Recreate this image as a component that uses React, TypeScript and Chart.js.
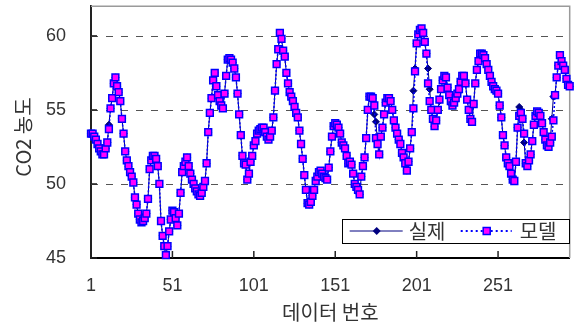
import React, { useEffect, useRef } from "react";
import { Chart, registerables } from "chart.js";

Chart.register(...registerables);

const seriesNames = ["실제", "모델"];
const xTitle = "데이터 번호";
const yTitle = "CO2 농도";
const xTickLabels = [1, 51, 101, 151, 201, 251];
const yTickValues = [45, 50, 55, 60];
const yGridValues = [50, 55, 60];

const modelValues = [
  53.4, 53.4, 53.2, 53.0, 52.7, 52.4, 52.2, 52.0, 52.0, 52.4,
  52.8, 53.7, 55.1, 55.8, 56.8, 57.2, 56.6, 56.2, 55.6, 54.4,
  53.4, 52.2, 51.6, 51.2, 50.8, 50.5, 50.1, 49.1, 48.6, 48.0,
  47.6, 47.4, 47.5, 47.7, 48.0, 49.0, 51.0, 51.6, 51.9, 51.9,
  51.7, 51.2, 50.0, 47.5, 46.5, 45.8, 45.2, 45.8, 46.8, 47.6,
  48.2, 48.1, 47.7, 47.2, 48.0, 49.4, 50.8, 51.2, 51.5, 51.8,
  51.2, 50.7, 50.3, 50.0, 49.7, 49.5, 49.3, 49.2, 49.4, 49.8,
  50.2, 51.4, 53.5, 54.8, 55.8, 57.0, 57.5, 56.6, 56.0, 55.6,
  55.3, 55.1, 56.1, 57.3, 58.4, 58.5, 58.4, 58.2, 57.8, 57.2,
  56.1, 54.7, 53.3, 51.9, 51.4, 51.3, 50.3, 50.7, 51.5, 51.9,
  52.6, 52.9, 53.4, 53.6, 53.7, 53.8, 53.8, 53.5, 53.2, 53.0,
  53.2, 53.6, 54.5, 56.3, 58.1, 59.1, 60.2, 59.8, 59.0, 58.6,
  57.5, 56.8, 56.2, 55.9, 55.6, 55.2, 54.8, 54.5, 53.6, 52.7,
  51.7, 50.6, 49.6, 48.7, 48.6, 48.8, 49.2, 49.6, 50.2, 50.5,
  50.8, 50.9, 50.7, 50.5, 50.4, 50.3, 51.1, 52.2, 53.2, 53.9,
  54.1, 54.0, 53.8, 53.4, 52.8, 52.6, 52.4, 51.9, 51.4, 51.5,
  51.3, 50.7, 50.0, 49.8, 49.6, 49.3, 50.5, 51.2, 51.8, 53.1,
  55.0, 55.9, 55.9, 55.8, 55.3, 53.1, 52.7, 52.0, 53.2, 53.8,
  54.7, 55.5, 55.8, 55.8, 55.6, 55.0, 54.3, 53.8, 53.4, 53.0,
  52.7, 52.1, 51.8, 51.4, 50.9, 51.5, 52.4, 53.5, 55.1, 57.6,
  59.5, 60.1, 60.4, 60.5, 60.2, 59.6, 58.8, 56.8, 55.6, 55.0,
  54.4, 53.9, 54.3, 55.0, 55.7, 56.4, 57.0, 57.3, 57.2, 56.5,
  56.0, 55.6, 55.3, 55.5, 55.8, 56.1, 56.4, 56.9, 57.3, 57.3,
  56.8, 55.7, 55.0, 54.4, 54.2, 55.4, 56.8, 57.7, 58.3, 58.8,
  58.8, 58.7, 58.5, 58.1, 57.7, 57.3, 56.9, 56.6, 56.4, 56.3,
  56.1, 55.3, 54.5, 53.3, 52.6, 51.8, 51.4, 51.2, 50.7, 50.3,
  50.2, 51.5, 53.8, 54.6, 54.8, 54.4, 53.4, 51.4, 51.2, 51.6,
  52.0, 52.9, 54.0, 54.6, 54.9, 54.8, 54.6, 54.1, 53.5, 53.0,
  52.6, 52.5, 52.8, 53.2, 54.3, 56.0, 57.2, 58.0, 58.7, 58.3,
  58.0, 57.7, 57.1, 56.7, 56.6,
];

const actualValues = [
  53.4, 53.4, 53.2, 53.0, 52.7, 52.4, 52.2, 52.0, 52.0, 52.4,
  52.8, 54.0, 55.1, 55.8, 56.8, 57.2, 56.6, 56.2, 55.6, 54.4,
  53.4, 52.2, 51.6, 51.2, 50.8, 50.5, 50.1, 49.1, 48.6, 48.0,
  47.6, 47.4, 47.5, 47.7, 48.0, 49.0, 51.0, 51.6, 51.9, 51.9,
  51.7, 51.2, 50.0, 47.5, 46.5, 45.8, 45.2, 45.8, 46.8, 47.6,
  48.2, 48.1, 47.7, 47.2, 48.0, 49.4, 50.8, 51.2, 51.5, 51.8,
  51.2, 50.7, 50.3, 50.0, 49.7, 49.5, 49.3, 49.2, 49.4, 49.8,
  50.2, 51.4, 53.5, 54.8, 55.8, 57.0, 57.5, 56.6, 56.0, 55.6,
  55.3, 55.1, 56.1, 57.3, 58.4, 58.5, 58.4, 58.2, 57.8, 57.2,
  56.1, 54.7, 53.3, 51.9, 51.4, 51.3, 50.3, 50.7, 51.5, 51.9,
  52.6, 52.9, 53.4, 53.6, 53.7, 53.8, 53.8, 53.5, 53.2, 53.0,
  53.2, 53.6, 54.5, 56.3, 58.1, 59.1, 60.2, 59.8, 59.0, 58.6,
  57.5, 56.8, 56.2, 55.9, 55.6, 55.2, 54.8, 54.5, 53.6, 52.7,
  51.7, 50.6, 49.6, 48.7, 48.6, 48.8, 49.2, 49.6, 50.2, 50.5,
  50.8, 50.9, 50.7, 50.5, 50.4, 50.3, 51.1, 52.2, 53.2, 53.9,
  54.1, 54.0, 53.8, 53.4, 52.8, 52.6, 52.4, 51.9, 51.4, 51.5,
  51.3, 50.7, 50.0, 49.8, 49.6, 49.3, 50.5, 51.2, 51.8, 53.1,
  55.0, 55.9, 55.9, 55.8, 54.7, 54.2, 52.7, 52.0, 53.2, 53.8,
  54.7, 55.5, 55.8, 55.8, 55.6, 55.0, 54.3, 53.8, 53.4, 53.0,
  52.7, 52.1, 51.8, 51.4, 50.9, 51.5, 52.4, 53.5, 56.3, 57.8,
  59.5, 60.1, 60.4, 60.5, 60.2, 59.6, 58.8, 57.8, 56.4, 55.0,
  54.4, 53.9, 54.3, 55.0, 55.6, 56.4, 57.0, 57.3, 57.2, 56.5,
  56.0, 55.6, 55.3, 55.5, 55.8, 56.1, 56.4, 56.9, 57.3, 57.3,
  56.8, 55.7, 55.0, 54.4, 54.2, 55.4, 56.8, 57.7, 58.3, 58.8,
  58.8, 58.7, 58.5, 58.1, 57.7, 57.3, 56.9, 56.6, 56.4, 56.3,
  56.1, 55.3, 54.5, 53.3, 52.6, 51.8, 51.4, 51.2, 50.7, 50.3,
  50.2, 51.5, 53.8, 55.2, 55.0, 54.4, 52.8, 51.4, 51.2, 51.6,
  52.0, 52.9, 54.0, 54.6, 54.9, 54.8, 54.6, 54.1, 53.5, 53.0,
  52.6, 52.5, 52.8, 54.4, 55.9, 56.0, 57.2, 58.0, 58.7, 58.3,
  58.0, 57.7, 57.1, 56.7, 56.6,
];

const FONT_NUM = '"Liberation Sans", "Noto Sans CJK KR", sans-serif';
const FONT_KR = '"Noto Sans CJK KR", "Liberation Sans", sans-serif';
const TEXT_COLOR = "#333333";
const ACTUAL_COLOR = "#000080";
const MODEL_LINE = "#0000FF";
const MODEL_FILL = "#FF00FF";

const decorPlugin = {
  id: "decor",
  beforeDraw(chart: any) {
    const { ctx, width, height } = chart;
    ctx.save();
    ctx.fillStyle = "#ffffff";
    ctx.fillRect(0, 0, width, height);
    ctx.restore();
  },
  beforeDatasetsDraw(chart: any) {
    const { ctx, chartArea: ca, scales } = chart;
    const ys = scales.y;
    const xs = scales.x;
    ctx.save();
    ctx.strokeStyle = "#9a9a9a";
    ctx.lineWidth = 1.5;
    ctx.beginPath();
    ctx.moveTo(ca.left, ca.top);
    ctx.lineTo(ca.right, ca.top);
    ctx.lineTo(ca.right, ca.bottom);
    ctx.stroke();
    ctx.strokeStyle = "#555555";
    ctx.lineWidth = 1;
    ctx.setLineDash([7, 8]);
    for (const v of yGridValues) {
      const y = Math.round(ys.getPixelForValue(v)) + 0.5;
      ctx.beginPath();
      ctx.moveTo(ca.left, y);
      ctx.lineTo(ca.right, y);
      ctx.stroke();
    }
    ctx.setLineDash([]);
    ctx.strokeStyle = "#222222";
    ctx.lineWidth = 1.5;
    for (const v of yTickValues) {
      const y = ys.getPixelForValue(v);
      ctx.beginPath();
      ctx.moveTo(ca.left, y);
      ctx.lineTo(ca.left + 6, y);
      ctx.stroke();
    }
    for (const v of xTickLabels) {
      const x = xs.getPixelForValue(v);
      ctx.beginPath();
      ctx.moveTo(x, ca.bottom);
      ctx.lineTo(x, ca.bottom - 7);
      ctx.stroke();
    }
    ctx.restore();
  },
  afterDraw(chart: any) {
    const { ctx, chartArea: ca } = chart;
    ctx.save();
    ctx.fillStyle = TEXT_COLOR;
    ctx.font = `20px ${FONT_KR}`;
    ctx.textAlign = "center";
    ctx.textBaseline = "middle";
    ctx.translate(23, 137);
    ctx.rotate(-Math.PI / 2);
    ctx.fillText(yTitle, 0, 0);
    ctx.restore();

    ctx.save();
    const lw = 227;
    const lh = 24;
    const lx = ca.right - 1 - lw;
    const ly = ca.bottom - 15 - lh;
    ctx.fillStyle = "#ffffff";
    ctx.fillRect(lx, ly, lw, lh);
    ctx.strokeStyle = "#000000";
    ctx.lineWidth = 1;
    ctx.strokeRect(Math.round(lx) + 0.5, Math.round(ly) + 0.5, lw, lh);
    const cy = ly + lh / 2;
    ctx.strokeStyle = ACTUAL_COLOR;
    ctx.lineWidth = 1;
    ctx.beginPath();
    ctx.moveTo(lx + 8, cy);
    ctx.lineTo(lx + 61, cy);
    ctx.stroke();
    ctx.fillStyle = ACTUAL_COLOR;
    const dx = lx + 35;
    ctx.beginPath();
    ctx.moveTo(dx - 4, cy);
    ctx.lineTo(dx, cy - 4);
    ctx.lineTo(dx + 4, cy);
    ctx.lineTo(dx, cy + 4);
    ctx.closePath();
    ctx.fill();
    ctx.fillStyle = TEXT_COLOR;
    ctx.font = `20px ${FONT_KR}`;
    ctx.textAlign = "left";
    ctx.textBaseline = "middle";
    ctx.fillText(seriesNames[0], lx + 67, cy);
    ctx.strokeStyle = MODEL_LINE;
    ctx.lineWidth = 2;
    ctx.setLineDash([2, 3]);
    ctx.beginPath();
    ctx.moveTo(lx + 119, cy);
    ctx.lineTo(lx + 170, cy);
    ctx.stroke();
    ctx.setLineDash([]);
    const sx = lx + 145;
    ctx.fillStyle = MODEL_FILL;
    ctx.fillRect(sx - 3.5, cy - 3.5, 7, 7);
    ctx.strokeStyle = MODEL_LINE;
    ctx.lineWidth = 1.5;
    ctx.strokeRect(sx - 3.5, cy - 3.5, 7, 7);
    ctx.fillStyle = TEXT_COLOR;
    ctx.fillText(seriesNames[1], lx + 178, cy);
    ctx.restore();
  },
};

export default function App() {
  const ref = useRef<HTMLCanvasElement>(null);
  useEffect(() => {
    const canvas = ref.current;
    if (!canvas) return;
    const chart = new Chart(canvas, {
      type: "line",
      data: {
        datasets: [
          {
            label: seriesNames[1],
            data: modelValues.map((v, i) => ({ x: i + 1, y: v })),
            borderColor: MODEL_LINE,
            borderWidth: 1.5,
            borderDash: [2, 2],
            pointStyle: "rect",
            pointRadius: 4.8,
            pointBackgroundColor: MODEL_FILL,
            pointBorderColor: MODEL_LINE,
            pointBorderWidth: 1.5,
            fill: false,
            tension: 0,
            clip: false,
          },
          {
            label: seriesNames[0],
            data: actualValues.map((v, i) => ({ x: i + 1, y: v })),
            borderColor: ACTUAL_COLOR,
            borderWidth: 1,
            pointStyle: "rectRot",
            pointRadius: 3.5,
            pointBackgroundColor: ACTUAL_COLOR,
            pointBorderColor: ACTUAL_COLOR,
            pointBorderWidth: 1,
            fill: false,
            tension: 0,
            clip: false,
          },
        ],
      } as any,
      options: {
        responsive: false,
        animation: false,
        events: [],
        layout: { padding: { top: 5, right: 3, left: 0, bottom: 0 } },
        plugins: { legend: { display: false }, tooltip: { enabled: false } },
        scales: {
          x: {
            type: "linear",
            min: 1,
            max: 295,
            afterBuildTicks: (s: any) => {
              s.ticks = xTickLabels.map((v) => ({ value: v }));
            },
            afterFit: (s: any) => {
              s.height = 66;
              s.paddingLeft = 0;
              s.paddingRight = 0;
              s.paddingTop = 0;
              s.paddingBottom = 0;
            },
            grid: { display: false, drawTicks: false },
            border: { display: true, color: "#000000", width: 2 },
            ticks: {
              padding: 17,
              color: TEXT_COLOR,
              font: { family: FONT_NUM, size: 18 },
              maxRotation: 0,
              autoSkip: false,
            },
            title: {
              display: true,
              text: xTitle,
              color: TEXT_COLOR,
              font: { family: FONT_KR, size: 20 },
              padding: { top: 0, bottom: 0 },
            },
          },
          y: {
            type: "linear",
            min: 45,
            max: 62,
            afterBuildTicks: (s: any) => {
              s.ticks = yTickValues.map((v) => ({ value: v }));
            },
            afterFit: (s: any) => {
              s.width = 91;
              s.paddingLeft = 0;
              s.paddingRight = 0;
              s.paddingTop = 0;
              s.paddingBottom = 0;
            },
            grid: { display: false, drawTicks: false },
            border: { display: true, color: "#222222", width: 2 },
            ticks: {
              padding: 25,
              color: TEXT_COLOR,
              font: { family: FONT_NUM, size: 18 },
            },
          },
        },
      } as any,
      plugins: [decorPlugin],
    });
    return () => chart.destroy();
  }, []);
  return (
    <div style={{ position: "absolute", left: 0, top: 0, width: 576, height: 324 }}>
      <canvas ref={ref} width={576} height={324} style={{ display: "block" }} />
    </div>
  );
}
